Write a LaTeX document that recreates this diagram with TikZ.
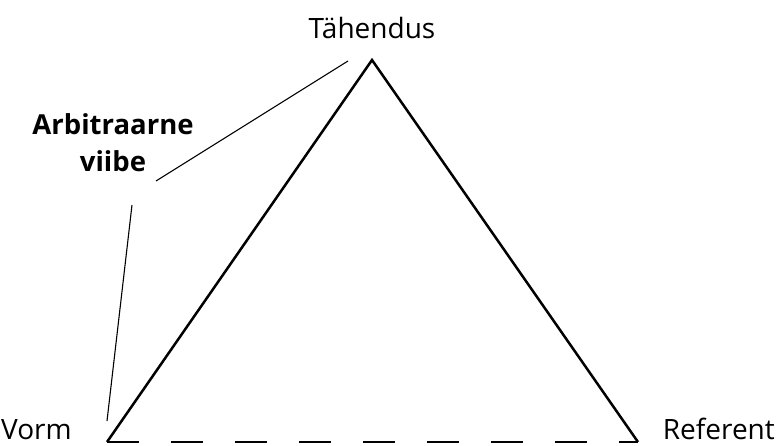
\documentclass[tikz,border=0pt]{standalone}
\usepackage{fontspec}
\setmainfont{Open Sans}
\begin{document}
\begin{tikzpicture}[x=1pt,y=-1pt,
  lbl/.style={inner sep=0pt, font=\fontsize{28}{32}\selectfont},
  blbl/.style={inner sep=0pt, font=\fontsize{27.5}{37}\selectfont\bfseries, align=center},
  side/.style={line width=2.5pt, line join=miter},
  thin/.style={line width=1.1pt}]
\useasboundingbox (0,0) rectangle (776,445);
\coordinate (top) at (372,60);
\coordinate (bl) at (107,442);
\coordinate (br) at (638,442);
\draw[side] (bl) -- (top) -- (br);
\draw[side, dash pattern=on 32pt off 32pt] (bl) -- (br);
\node[lbl] (tah) at (372,28) {Tähendus};
\node[lbl, anchor=base west] (vorm) at (1,439) {Vorm};
\node[lbl, anchor=base east] (ref) at (775,439) {Referent};
\node[blbl, anchor=base] (arb) at (113,171) {Arbitraarne\\viibe};
\coordinate (a1) at (348,61);
\coordinate (a2) at (156,181);
\coordinate (b1) at (132,205);
\coordinate (b2) at (107,421);
\draw[thin] (a1) -- (a2);
\draw[thin] (b1) -- (b2);
\end{tikzpicture}
\end{document}
